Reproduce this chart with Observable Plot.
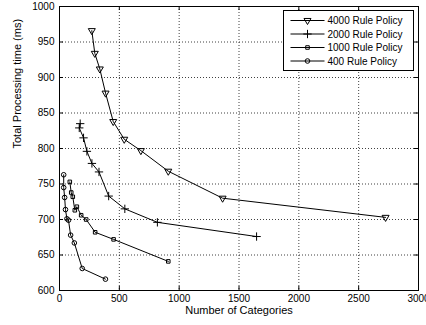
<!DOCTYPE html>
<html><head><meta charset="utf-8">
<script src="https://cdn.jsdelivr.net/npm/d3@7"></script>
<script src="https://cdn.jsdelivr.net/npm/@observablehq/plot@0.6"></script>
<style>
body{margin:0;background:#fff}
#chart{position:relative;width:426px;height:325px;font-family:"Liberation Sans",Arial,sans-serif}
#legend{position:absolute;left:0;top:0}
</style>
</head><body><div id="chart"></div>
<script>
const seriesNames = ["4000 Rule Policy", "2000 Rule Policy", "1000 Rule Policy", "400 Rule Policy"];
const seriesSymbols = ["triangle", "plus", "square", "circle"];
const cat4000 = [270, 295, 337, 385, 449, 541, 680, 909, 1363, 2725];
const time4000 = [966, 934, 912, 878, 838, 813, 797, 768, 730, 703];
const cat2000 = [173, 165, 201, 229, 271, 330, 411, 546, 818, 1647];
const time2000 = [835, 829, 815, 796, 779, 767, 733, 715, 696, 676];
const cat1000 = [86, 98, 111, 128, 145, 181, 223, 298, 452, 909];
const time1000 = [753, 738, 732, 713, 718, 706, 700, 682, 672, 641];
const cat400 = [35, 35, 43, 50, 62, 75, 93, 124, 190, 384];
const time400 = [763, 745, 731, 714, 701, 699, 678, 667, 631, 616];
const xTicks = [0, 500, 1000, 1500, 2000, 2500, 3000];
const yTicks = [600, 650, 700, 750, 800, 850, 900, 950, 1000];
const xLabel = "Number of Categories";
const yLabel = "Total Processing time (ms)";

const cats = [cat4000, cat2000, cat1000, cat400];
const times = [time4000, time2000, time1000, time400];
const rows = [];
seriesNames.forEach((s, i) => cats[i].forEach((c, j) => rows.push({series: s, cat: c, time: times[i][j]})));

const W = 426, H = 325, mL = 59, mR = 8, mT = 6, mB = 35;
const innerW = W - mL - mR, innerH = H - mT - mB;
const tick = 4;
const symStyle = {
  "triangle": {r: 2.6, rotate: 180},
  "plus": {r: 2.8, rotate: 0},
  "square": {r: 2.0, rotate: 0},
  "circle": {r: 2.3, rotate: 0}
};

const marks = [
  Plot.gridX(xTicks.slice(1, -1), {stroke: "#000", strokeOpacity: 0.75, strokeDasharray: "1,2"}),
  Plot.gridY(yTicks.slice(1, -1), {stroke: "#000", strokeOpacity: 0.75, strokeDasharray: "1,2"}),
  Plot.frame({stroke: "black", strokeWidth: 1}),
  Plot.tickX(xTicks, {x: d => d, insetTop: innerH - tick, stroke: "black"}),
  Plot.tickX(xTicks, {x: d => d, insetBottom: innerH - tick, stroke: "black"}),
  Plot.tickY(yTicks, {y: d => d, insetRight: innerW - tick, stroke: "black"}),
  Plot.tickY(yTicks, {y: d => d, insetLeft: innerW - tick, stroke: "black"}),
  Plot.axisX(xTicks, {tickSize: 0, tickPadding: 4, label: null, fill: "black", tickFormat: d => String(d)}),
  Plot.axisY(yTicks, {tickSize: 0, tickPadding: 5, label: null, fill: "black", tickFormat: d => String(d)}),
  Plot.text([xLabel], {text: d => d, frameAnchor: "bottom", dy: 23, fontSize: 11, fill: "black"}),
  Plot.text([yLabel], {text: d => d, frameAnchor: "left", dx: -42, rotate: -90, fontSize: 11, fill: "black"}),
  Plot.line(rows, {x: "cat", y: "time", z: "series", stroke: "black", strokeWidth: 1})
];
seriesNames.forEach((s, i) => {
  const sym = seriesSymbols[i];
  marks.push(Plot.dot(rows.filter(d => d.series === s), {
    x: "cat", y: "time", symbol: sym, r: symStyle[sym].r, rotate: symStyle[sym].rotate,
    stroke: "black", fill: "none", strokeWidth: 1
  }));
});

const chart = Plot.plot({
  width: W, height: H,
  marginLeft: mL, marginRight: mR, marginTop: mT, marginBottom: mB,
  style: {fontFamily: "'Liberation Sans', Arial, sans-serif", fontSize: "10px", color: "black", background: "white", overflow: "visible"},
  x: {domain: [0, 3000]},
  y: {domain: [600, 1000]},
  marks
});
const container = document.getElementById("chart");
container.appendChild(chart);

// legend overlay
const lg = d3.select(container).append("svg").attr("id", "legend").attr("width", W).attr("height", H);
const box = {x: 283.5, y: 10.5, w: 130, h: 60};
lg.append("rect").attr("x", box.x).attr("y", box.y).attr("width", box.w).attr("height", box.h)
  .attr("fill", "white").attr("stroke", "black").attr("stroke-width", 1);
const symMap = {triangle: d3.symbolTriangle, plus: d3.symbolPlus, square: d3.symbolSquare, circle: d3.symbolCircle};
seriesNames.forEach((s, i) => {
  const cy = box.y + 10 + i * 13.5;
  const g = lg.append("g");
  g.append("line").attr("x1", box.x + 7).attr("x2", box.x + 41).attr("y1", cy).attr("y2", cy).attr("stroke", "black");
  const sym = seriesSymbols[i];
  const r = symStyle[sym].r;
  g.append("path").attr("d", d3.symbol(symMap[sym], Math.PI * r * r)())
    .attr("transform", `translate(${box.x + 24},${cy}) rotate(${symStyle[sym].rotate})`)
    .attr("fill", "none").attr("stroke", "black");
  g.append("text").attr("x", box.x + 44).attr("y", cy).attr("dy", "0.35em")
    .attr("font-size", 10).attr("font-family", "'Liberation Sans', Arial, sans-serif").text(s);
});
</script>
</body></html>
